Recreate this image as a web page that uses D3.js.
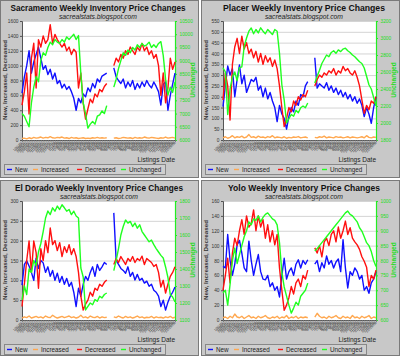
<!DOCTYPE html>
<html><head><meta charset="utf-8">
<script src="https://cdn.jsdelivr.net/npm/d3@7/dist/d3.min.js"></script>
<style>body{margin:0;background:#fff}svg{display:block}text{font-family:"Liberation Sans",Arial,sans-serif}</style>
</head><body><svg id="c" width="400" height="356"></svg>
<script>
const dateLabels = ["10/1/07","10/8/07","10/15/07","10/22/07","10/29/07","11/5/07","11/12/07","11/19/07","11/26/07","12/3/07","12/10/07","12/17/07","12/24/07","12/31/07","1/7/08","1/14/08","1/21/08","1/28/08","2/4/08","2/11/08","2/18/08","2/25/08","3/3/08","3/10/08","3/17/08","3/24/08","3/31/08","4/7/08","4/14/08","4/21/08","4/28/08","5/5/08","5/12/08","5/19/08","5/26/08","6/2/08","6/9/08","6/16/08","6/23/08","6/30/08","7/7/08","7/14/08","7/21/08","7/28/08","8/4/08","8/11/08","8/18/08","8/25/08","9/1/08","9/8/08","9/15/08","9/22/08","9/29/08","10/6/08","10/13/08","10/20/08","10/27/08","11/3/08","11/10/08","11/17/08","11/24/08","12/1/08","12/8/08","12/15/08","12/22/08","12/29/08"];

const seriesNames = ["New","Increased","Decreased","Unchanged"];
const seriesColors = ["#1010ff","#ffa850","#ff1010","#20ff20"];

// Sacramento
const sacNew = [630,850,1000,1200,900,1050,1150,1250,1100,950,1000,880,950,820,900,760,800,700,750,680,720,650,560,400,560,500,620,580,700,650,760,700,820,780,860,880,900,null,null,970,850,800,760,820,700,780,720,800,680,760,700,780,720,800,740,700,780,720,650,470,750,780,400,600,750,900];
const sacInc = [20,25,15,30,20,35,25,30,40,25,35,30,45,30,25,35,30,40,25,30,20,35,25,30,20,25,30,20,25,20,30,25,35,25,30,25,30,null,null,25,30,20,25,35,30,25,30,20,35,25,30,25,40,30,25,35,30,25,20,30,25,40,25,30,35,25];
const sacDec = [470,650,900,350,1100,1300,700,1350,1250,1400,1300,1350,1550,1300,1420,1350,1300,1250,1300,1200,1250,1150,1220,1180,700,900,500,280,420,550,500,620,580,680,650,720,760,null,null,1000,1100,1050,1150,1100,1200,1150,1250,1200,1150,1250,1200,1300,1200,1250,1150,1200,1100,1150,1000,600,900,500,700,1100,950,1050];
const sacUnch = [7000,6900,6700,6500,7400,8000,8400,8200,9000,9300,9200,9500,9700,9600,9800,9700,9650,9800,9700,9900,9800,9900,10000,9800,9950,8500,7400,7000,6450,6600,6700,6600,6900,6950,7100,7000,7300,null,null,8000,8300,8700,9000,9300,9200,9400,9300,9500,9400,9600,9500,9650,9550,9600,9700,9500,9600,9500,9650,9720,9200,8300,7700,8000,7800,8200];

// Placer
const plNew = [154,250,342,300,330,200,280,347,260,300,220,250,280,270,290,230,250,200,240,190,220,180,150,85,160,120,100,50,110,150,130,180,160,210,200,250,270,null,null,380,240,260,250,240,265,230,250,220,240,210,230,200,220,190,210,180,200,170,190,160,108,150,120,77,150,200];
const plInc = [10,15,8,12,20,10,15,12,18,10,14,25,12,15,10,18,12,14,10,16,12,20,10,14,12,10,15,8,12,10,14,12,16,10,12,14,10,null,null,12,10,15,12,18,10,14,12,10,16,12,14,10,12,15,10,14,12,10,12,15,10,20,12,10,14,12];
const plDec = [185,310,250,92,350,430,470,400,480,420,450,400,420,380,410,360,400,350,390,360,380,340,370,330,250,150,62,100,150,130,180,160,200,185,210,200,230,null,null,250,280,300,290,310,300,320,310,330,300,320,310,340,320,330,310,300,320,290,250,185,123,160,140,180,170,200];
const plUnch = [2650,2600,2100,2400,2540,2600,2500,2650,2660,2900,3000,3080,3118,3050,3100,3060,3120,3080,3050,3100,3070,3040,3100,3080,2820,2450,2270,2000,2050,2100,2080,2150,2120,2180,2200,2180,2235,null,null,2470,2550,2620,2700,2750,2800,2780,2830,2850,2820,2860,2840,2870,2880,2850,2830,2800,2780,2750,2720,2700,2647,2550,2450,2400,2300,2200];

// El Dorado
const edNew = [88,140,149,136,120,100,156,130,150,144,120,134,110,125,100,118,95,110,90,105,85,95,70,34,80,60,90,110,100,120,134,110,140,125,134,145,140,null,null,270,150,140,130,125,118,134,110,120,101,115,100,105,93,98,85,90,75,70,60,34,50,25,45,60,70,83];
const edInc = [5,8,6,10,5,7,9,6,8,5,10,7,6,12,8,5,7,9,6,8,10,6,8,5,7,12,6,8,5,10,7,6,9,5,8,6,7,null,null,8,6,10,7,5,9,6,8,5,7,10,6,8,5,7,6,9,5,8,6,7,5,8,6,9,5,7];
const edDec = [34,90,150,199,120,199,170,80,180,150,200,170,232,190,200,175,195,160,185,170,190,165,180,160,120,60,25,40,50,70,60,80,75,90,85,95,101,null,null,140,155,145,160,150,140,155,148,160,145,155,150,161,140,155,150,145,135,140,120,83,100,68,90,110,120,134];
const edUnch = [1218,1300,1250,1400,1380,1450,1420,1500,1550,1620,1700,1741,1720,1760,1740,1770,1750,1778,1760,1740,1750,1720,1740,1712,1700,1406,1353,1159,1180,1200,1190,1220,1210,1240,1230,1250,1259,null,null,1390,1450,1520,1600,1650,1688,1670,1680,1650,1670,1640,1660,1620,1600,1580,1560,1570,1543,1520,1500,1480,1465,1412,1350,1250,1235,1206];

// Yolo
const yoNew = [72,70,115,80,60,75,101,107,90,70,65,106,80,60,75,88,65,55,54,60,45,50,40,45,31,60,83,55,65,70,60,75,81,70,80,75,81,null,null,75,80,65,77,70,86,75,80,70,78,82,65,108,70,43,65,60,70,65,55,60,40,45,36,50,55,65];
const yoInc = [3,4,2,5,3,8,4,3,5,2,4,6,3,4,2,5,3,4,6,3,2,4,3,5,2,4,3,6,2,4,3,5,2,4,3,4,3,null,null,4,9,5,3,4,2,5,3,4,6,3,2,5,3,4,2,6,3,4,2,5,3,4,6,2,4,3];
const yoDec = [40,60,83,50,90,110,100,120,135,115,140,125,130,148,120,140,125,135,110,128,105,120,101,115,70,40,13,20,30,45,35,50,55,45,60,55,67,null,null,97,90,100,85,105,110,100,115,120,105,125,110,120,133,115,124,110,105,101,95,85,79,71,45,60,55,67];
const yoUnch = [691,700,650,720,800,842,790,820,850,880,900,930,920,940,935,950,930,945,955,960,950,940,935,920,860,760,711,680,650,623,640,660,650,680,690,700,724,null,null,832,840,850,860,870,880,890,900,910,920,930,940,950,960,966,955,950,940,930,910,899,880,860,850,830,800,780];

const panels = [
  {title:"Sacramento Weekly Inventory Price Changes", tw:175, tx:98, ox:0, oy:0, w:199, h:178,
   left:[0,1600,200], right:[6000,10500,500], data:[sacNew,sacInc,sacDec,sacUnch]},
  {title:"Placer Weekly Inventory Price Changes", tw:162, tx:103, ox:201, oy:0, w:199, h:178,
   left:[0,550,50], right:[1800,3200,200], data:[plNew,plInc,plDec,plUnch]},
  {title:"El Dorado Weekly Inventory Price Changes", tw:168, tx:99, ox:0, oy:180, w:199, h:176,
   left:[0,300,50], right:[1100,1800,100], data:[edNew,edInc,edDec,edUnch]},
  {title:"Yolo Weekly Inventory Price Changes", tw:152, tx:103, ox:201, oy:180, w:199, h:176,
   left:[0,160,20], right:[600,1000,50], data:[yoNew,yoInc,yoDec,yoUnch]}
];

const svg = d3.select("#c");
const PX0 = 22, PX1 = 175, PY0 = 21, PY1 = 140;
const fmt = d3.format("d");

panels.forEach(p => {
  const g = svg.append("g").attr("transform", `translate(${p.ox},${p.oy})`);
  g.append("rect").attr("x",0.5).attr("y",0.5).attr("width",p.w-1).attr("height",p.h-1)
    .attr("fill","#c8c8c8").attr("stroke","#7a7a7a");

  g.append("text").attr("x",p.tx).attr("y",11).attr("text-anchor","middle")
    .attr("font-size",9.5).attr("font-weight","bold").attr("fill","#111")
    .attr("textLength",p.tw).attr("lengthAdjust","spacingAndGlyphs").text(p.title);
  g.append("text").attr("x",p.tx).attr("y",18.5).attr("text-anchor","middle")
    .attr("font-size",6.5).attr("font-style","italic").attr("fill","#222")
    .attr("textLength",78).attr("lengthAdjust","spacingAndGlyphs").text("sacrealstats.blogspot.com");

  const x = d3.scalePoint().domain(dateLabels).range([PX0,PX1]);
  const yL = d3.scaleLinear().domain([p.left[0],p.left[1]]).range([PY1,PY0]);
  const yR = d3.scaleLinear().domain([p.right[0],p.right[1]]).range([PY1,PY0]);
  const lt = d3.range(p.left[0], p.left[1]+0.001, p.left[2]);
  const rt = d3.range(p.right[0], p.right[1]+0.001, p.right[2]);

  g.append("rect").attr("x",PX0).attr("y",PY0).attr("width",PX1-PX0).attr("height",PY1-PY0).attr("fill","#fff");
  g.append("g").selectAll("line").data(lt).join("line")
    .attr("x1",PX0).attr("x2",PX1).attr("y1",d=>yL(d)+0.5).attr("y2",d=>yL(d)+0.5)
    .attr("stroke","#d4d4d4").attr("stroke-width",1);

  // left axis
  const ga = g.append("g").attr("transform",`translate(${PX0},0)`)
    .call(d3.axisLeft(yL).tickValues(lt).tickFormat(fmt).tickSize(2).tickPadding(1.5));
  ga.select(".domain").attr("stroke","#555");
  ga.selectAll(".tick line").attr("stroke","#555");
  ga.selectAll("text").attr("font-size",4.8).attr("fill","#333").attr("font-family","Liberation Sans, Arial, sans-serif");

  // right axis
  const gr = g.append("g").attr("transform",`translate(${PX1},0)`)
    .call(d3.axisRight(yR).tickValues(rt).tickFormat(fmt).tickSize(2).tickPadding(2.5));
  gr.select(".domain").attr("stroke","#22ee22").attr("stroke-width",1.2);
  gr.selectAll(".tick line").attr("stroke","#22ee22");
  gr.selectAll("text").attr("font-size",4.8).attr("fill","#22dd22").attr("font-family","Liberation Sans, Arial, sans-serif");

  // bottom axis
  const gb = g.append("g").attr("transform",`translate(0,${PY1})`)
    .call(d3.axisBottom(x).tickSize(1.5).tickFormat(""));
  gb.select(".domain").attr("stroke","#555");
  gb.selectAll(".tick line").attr("stroke","#777");
  g.append("g").selectAll("text").data(dateLabels).join("text")
    .attr("transform",d=>`translate(${x(d)+1},${PY1+3}) rotate(-45)`)
    .attr("text-anchor","end").attr("font-size",3.6).attr("fill","#333").text(d=>d);

  // series
  p.data.forEach((arr,k) => {
    const yy = k===3 ? yR : yL;
    const line = d3.line().defined(d=>d!=null).x((d,i)=>x(dateLabels[i])).y(d=>yy(d));
    g.append("path").datum(arr).attr("d",line).attr("fill","none")
      .attr("stroke",seriesColors[k]).attr("stroke-width",1.4).attr("stroke-linejoin","round");
  });

  // axis titles
  g.append("text").attr("transform","translate(7,80) rotate(-90)").attr("text-anchor","middle")
    .attr("font-size",6).attr("font-weight","bold").attr("fill","#333")
    .attr("textLength",80).attr("lengthAdjust","spacingAndGlyphs").text("New, Increased, Decreased");
  g.append("text").attr("transform","translate(195,80) rotate(-90)").attr("text-anchor","middle")
    .attr("font-size",6.5).attr("font-weight","bold").attr("fill","#22dd22").text("Unchanged");
  g.append("text").attr("x",175).attr("y",162).attr("text-anchor","end")
    .attr("font-size",6.5).attr("fill","#222").text("Listings Date");

  // legend
  const lg = g.append("g");
  lg.append("rect").attr("x",4.5).attr("y",164.5).attr("width",161).attr("height",10)
    .attr("fill","#cfcfcf").attr("stroke","#888");
  const lx = [7,33,77,121];
  seriesNames.forEach((n,k) => {
    lg.append("line").attr("x1",lx[k]).attr("x2",lx[k]+5).attr("y1",169.5).attr("y2",169.5)
      .attr("stroke",seriesColors[k]).attr("stroke-width",1.4);
    lg.append("text").attr("x",lx[k]+8).attr("y",171.8).attr("font-size",6.3).attr("fill","#222").text(n);
  });
});
</script></body></html>
